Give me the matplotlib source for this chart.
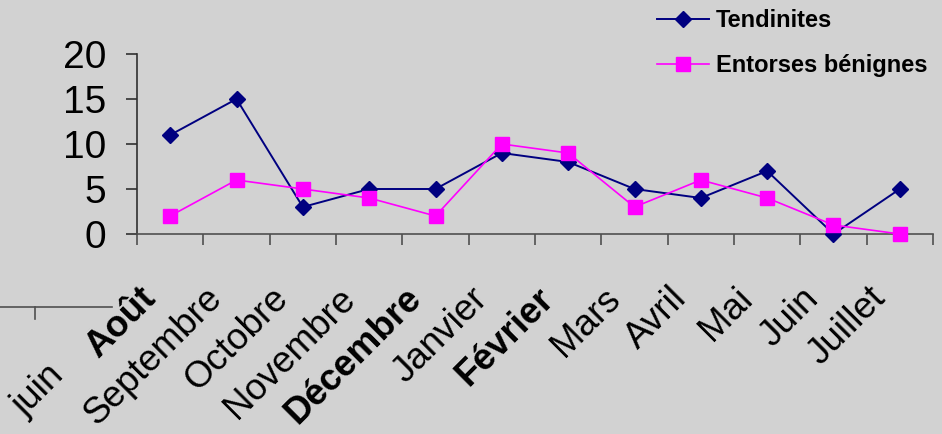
import numpy as np
import matplotlib
matplotlib.use("Agg")
import matplotlib.pyplot as plt
from matplotlib.transforms import ScaledTranslation
from matplotlib.lines import Line2D

months = ["Août", "Septembre", "Octobre", "Novembre", "Décembre", "Janvier",
          "Février", "Mars", "Avril", "Mai", "Juin", "Juillet"]
tendinites = [11, 15, 3, 5, 5, 9, 8, 5, 4, 7, 0, 5]
entorses = [2, 6, 5, 4, 2, 10, 9, 3, 6, 4, 1, 0]
yticks = [0, 5, 10, 15, 20]
stray_label = "juin"

plt.rcParams['font.family'] = ['Liberation Sans', 'DejaVu Sans']

W, H, DPI = 942, 434, 100
fig = plt.figure(figsize=(W / DPI, H / DPI), dpi=DPI)
fig.patch.set_facecolor('#d2d2d2')

ax = fig.add_axes([137 / W, 200 / H, 796 / W, 180 / H])
ax.set_facecolor('none')

x = np.arange(len(months))
ax.plot(x, tendinites, color='#000080', marker='D', ms=8, lw=1.4,
        label='Tendinites', clip_on=False, zorder=3)
ax.plot(x, entorses, color='#FF00FF', marker='s', ms=9.5, lw=1.2,
        label='Entorses bénignes', clip_on=False, zorder=4)

ax.set_xlim(-0.5, len(months) - 0.5)
ax.set_ylim(0, 20)
ax.set_yticks(yticks)
ax.set_yticklabels([str(v) for v in yticks])
ax.set_xticks(np.arange(-0.5, len(months), 1))
ax.set_xticklabels([])

for s in ['top', 'right']:
    ax.spines[s].set_visible(False)
ax.spines['left'].set_color('#303030')
ax.spines['bottom'].set_color('#505050')
ax.spines['left'].set_linewidth(1.2)
ax.spines['bottom'].set_linewidth(1.2)
ax.tick_params(axis='y', direction='out', length=8, width=1.2, colors='#303030',
               labelcolor='black', labelsize=28, pad=14)
ax.tick_params(axis='x', direction='out', length=8, width=1.2, colors='#505050')

bold = {"Août", "Décembre", "Février"}
for i, m in enumerate(months):
    tr = ax.transData + ScaledTranslation(-13 / DPI, -66 / DPI, fig.dpi_scale_trans)
    ax.text(i, 0, m, transform=tr, rotation=45, rotation_mode='anchor',
            ha='right', va='baseline', fontsize=26.5,
            fontweight='bold' if m in bold else 'normal', color='black')

fig.text(66 / W, 1 - 377 / H, stray_label, rotation=45, rotation_mode='anchor',
         ha='right', va='baseline', fontsize=26.5, color='black')

fig.add_artist(Line2D([0, 112 / W], [1 - 307 / H, 1 - 307 / H],
                      transform=fig.transFigure, color='#505050', lw=1.2))
fig.add_artist(Line2D([35 / W, 35 / W], [1 - 307 / H, 1 - 319 / H],
                      transform=fig.transFigure, color='#505050', lw=1.2))

leg = ax.legend(loc='upper left', bbox_to_anchor=(657 / W, 1 - 9 / H),
                bbox_transform=fig.transFigure, frameon=False, borderpad=0,
                borderaxespad=0, handlelength=2.2, handletextpad=0.3,
                labelspacing=0.95, prop={'size': 17, 'weight': 'bold'})

fig.savefig('out.png', dpi=DPI, facecolor=fig.get_facecolor())
